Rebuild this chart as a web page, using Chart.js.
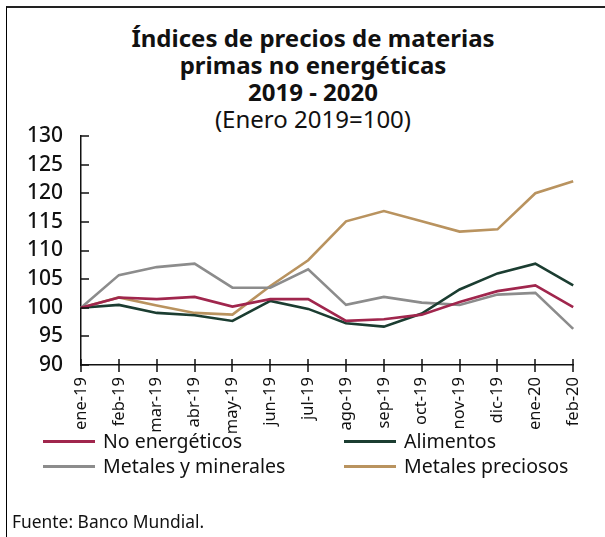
<!DOCTYPE html>
<html>
<head>
<meta charset="utf-8">
<script src="https://cdn.jsdelivr.net/npm/chart.js@4"></script>
<style>
  html, body { margin: 0; padding: 0; background: #fff; }
  body { width: 605px; height: 537px; position: relative; overflow: hidden; font-family: "Noto Sans", sans-serif; color: #111; }
  #frame { position: absolute; left: 6px; top: 6px; width: 610px; height: 540px; border-top: 2px solid #222; border-left: 1px solid #000; }
  #title { position: absolute; left: 0; width: 626px; top: 24px; text-align: center; font-size: 24px; line-height: 27px; }
  #title .b { font-weight: bold; }
  #wrap { position: absolute; left: 0; top: 0; width: 605px; height: 537px; }
  .leg { position: absolute; font-size: 19.5px; line-height: 22px; white-space: nowrap; }
  .leg span.sw { position: absolute; left: -60px; top: 10px; width: 52px; height: 3px; }
  #src { position: absolute; left: 12px; top: 509px; font-size: 17.4px; }
</style>
</head>
<body>
<div id="frame"></div>
<div id="title">
  <div class="b">Índices de precios de materias</div>
  <div class="b">primas no energéticas</div>
  <div class="b">2019 - 2020</div>
  <div>(Enero 2019=100)</div>
</div>
<div id="wrap"><canvas id="c" width="605" height="537"></canvas></div>
<div id="legend"></div>
<div id="src">Fuente: Banco Mundial.</div>
<script>
// Datos
const labels = ['ene-19','feb-19','mar-19','abr-19','may-19','jun-19','jul-19','ago-19','sep-19','oct-19','nov-19','dic-19','ene-20','feb-20'];
const noEnergeticos = [100, 101.8, 101.5, 101.9, 100.2, 101.5, 101.5, 97.7, 98.0, 98.8, 101.0, 102.9, 103.9, 100.1];
const alimentos = [100, 100.5, 99.1, 98.7, 97.7, 101.2, 99.8, 97.3, 96.7, 99.0, 103.2, 106.0, 107.7, 103.9];
const metalesMinerales = [100, 105.7, 107.1, 107.7, 103.5, 103.5, 106.7, 100.5, 101.9, 100.9, 100.5, 102.3, 102.6, 96.3];
const metalesPreciosos = [100, 101.8, 100.4, 99.1, 98.8, 103.8, 108.3, 115.1, 116.9, 115.1, 113.3, 113.7, 120.0, 122.1];
const yTicks = [90, 95, 100, 105, 110, 115, 120, 125, 130];

const series = [
  { label: 'No energéticos', data: noEnergeticos, color: '#A0264D', lx: 103, ly: 430 },
  { label: 'Alimentos', data: alimentos, color: '#1B3D31', lx: 404, ly: 430 },
  { label: 'Metales y minerales', data: metalesMinerales, color: '#8C8C8C', lx: 103, ly: 455 },
  { label: 'Metales preciosos', data: metalesPreciosos, color: '#B9935F', lx: 404, ly: 455 }
];

// Leyenda en HTML (dos columnas)
const legend = document.getElementById('legend');
series.forEach(s => {
  const d = document.createElement('div');
  d.className = 'leg';
  d.style.left = s.lx + 'px';
  d.style.top = s.ly + 'px';
  d.innerHTML = `<span class="sw" style="background:${s.color}"></span>${s.label}`;
  legend.appendChild(d);
});

// Marcas de los ejes (hacia dentro en Y, cruzando en X)
const tickMarks = {
  id: 'tickMarks',
  afterDraw(chart) {
    const ctx = chart.ctx;
    const xs = chart.scales.x, ys = chart.scales.y;
    ctx.save();
    ctx.strokeStyle = '#111';
    ctx.lineWidth = 1.5;
    ctx.beginPath();
    yTicks.forEach(v => {
      const y = Math.round(ys.getPixelForValue(v));
      ctx.moveTo(xs.left, y);
      ctx.lineTo(xs.left + 8, y);
    });
    labels.forEach((l, i) => {
      const x = Math.round(xs.getPixelForValue(i));
      ctx.moveTo(x, ys.bottom - 6);
      ctx.lineTo(x, ys.bottom + 7);
    });
    ctx.stroke();
    ctx.restore();
  }
};

new Chart(document.getElementById('c'), {
  type: 'line',
  data: {
    labels: labels,
    datasets: series.map(s => ({
      label: s.label,
      data: s.data,
      borderColor: s.color,
      backgroundColor: s.color,
      borderWidth: 2.6,
      pointRadius: 0,
      tension: 0,
      fill: false
    }))
  },
  options: {
    responsive: false,
    animation: false,
    layout: { padding: { top: 136, right: 12, left: 0, bottom: 0 } },
    plugins: { legend: { display: false }, tooltip: { enabled: false }, title: { display: false } },
    scales: {
      x: {
        offset: false,
        grid: { display: false, drawTicks: false },
        border: { display: true, color: '#111', width: 1.5 },
        ticks: { color: '#111', font: { family: 'Noto Sans', size: 16.5 }, minRotation: 90, maxRotation: 90, padding: 12, autoSkip: false },
        afterFit(scale) { scale.height = 172; }
      },
      y: {
        min: 90, max: 130,
        grid: { display: false, drawTicks: false },
        border: { display: true, color: '#111', width: 1.5 },
        ticks: { stepSize: 5, color: '#111', font: { family: 'Noto Sans', size: 21, weight: '500' }, padding: 18 },
        afterFit(scale) { scale.width = 81; }
      }
    }
  },
  plugins: [tickMarks]
});
</script>
</body>
</html>
